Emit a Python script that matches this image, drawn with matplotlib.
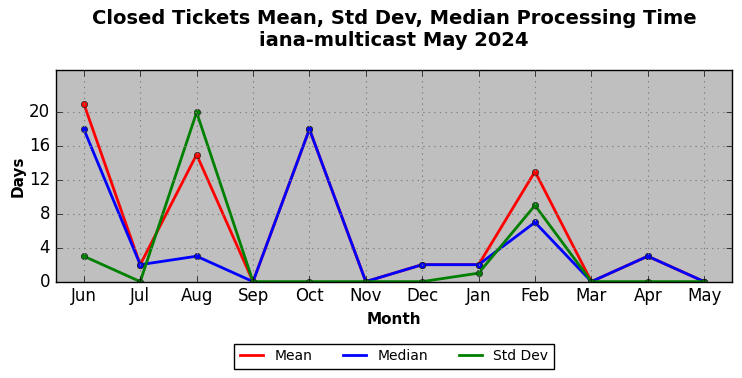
import matplotlib
matplotlib.use('Agg')
import matplotlib.pyplot as plt

months = ['Jun', 'Jul', 'Aug', 'Sep', 'Oct', 'Nov', 'Dec', 'Jan', 'Feb', 'Mar', 'Apr', 'May']
mean_days = [21, 2, 15, 0, 18, 0, 2, 2, 13, 0, 3, 0]
median_days = [18, 2, 3, 0, 18, 0, 2, 2, 7, 0, 3, 0]
std_days = [3, 0, 20, 0, 0, 0, 0, 1, 9, 0, 0, 0]
yticks = [0, 4, 8, 12, 16, 20]

plt.style.use('classic')
fig, ax = plt.subplots(figsize=(7.42, 3.78), dpi=100)
fig.patch.set_facecolor('white')
ax.set_facecolor('#bfbfbf')

x = list(range(len(months)))
ax.plot(x, mean_days, color='red', lw=2, marker='o', ms=4.5, mec='#222222', label='Mean')
ax.plot(x, median_days, color='blue', lw=2, marker='o', ms=4.5, mec='#222222', label='Median')
ax.plot(x, std_days, color='green', lw=2, marker='o', ms=4.5, mec='#222222', label='Std Dev')

ax.set_xticks(x)
ax.set_xticklabels(months, fontsize=12)
ax.set_yticks(yticks)
ax.tick_params(axis='y', labelsize=12)
ax.set_xlim(-0.5, 11.5)
ax.set_ylim(0, 25)
ax.grid(True, color='#808080', linestyle=':', linewidth=0.8)

ax.set_xlabel('Month', fontsize=11, fontweight='bold')
ax.set_ylabel('Days', fontsize=11, fontweight='bold', labelpad=2)
ax.set_title('Closed Tickets Mean, Std Dev, Median Processing Time\niana-multicast May 2024',
             fontsize=14, fontweight='bold', y=1.08)

ax.legend(loc='upper center', bbox_to_anchor=(0.5, -0.26), ncol=3, fontsize=10,
          frameon=True, fancybox=False, edgecolor='black', handlelength=1.7,
          columnspacing=2.2, numpoints=1, markerscale=0)

fig.subplots_adjust(left=0.075, right=0.987, top=0.815, bottom=0.255)
fig.savefig('out.png', dpi=100)
